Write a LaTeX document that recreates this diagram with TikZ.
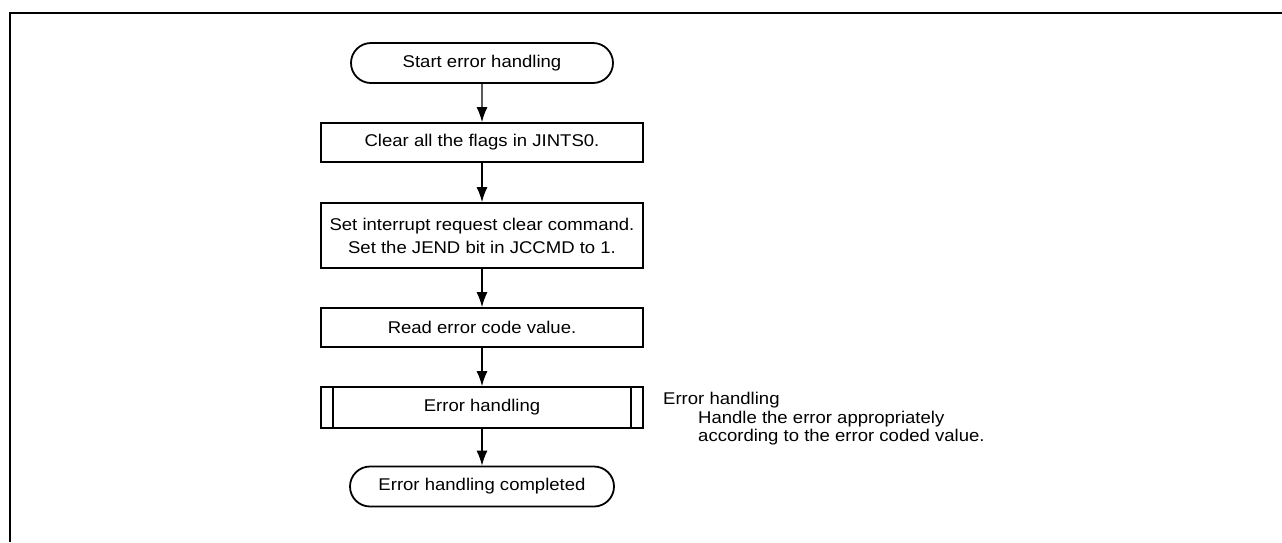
\documentclass[tikz,border=0pt]{standalone}
\usepackage{fontspec}
\setmainfont{Liberation Sans}[FakeStretch=1.09]
\usetikzlibrary{arrows.meta,shapes.misc,positioning}
\begin{document}
\begin{tikzpicture}[x=1pt,y=-1pt,
  every node/.style={font=\fontsize{17}{19}\selectfont, inner sep=0pt},
  term/.style={rounded rectangle, draw, line width=1.8pt, minimum height=40pt},
  proc/.style={rectangle, draw, line width=1.8pt, minimum width=322pt, align=center, font=\fontsize{17}{23}\selectfont},
  flow/.style={-{Latex[length=15pt,width=11pt]}, line width=1.2pt}]
\useasboundingbox (0,0) rectangle (1282,542);
\draw[line width=2pt] (9.5,542) -- (9.5,12.5) -- (1282,12.5);
\node[term, minimum width=262pt] (start) at (482,63) {Start error handling};
\node[proc, minimum height=39pt] (b1) at (482,142.5) {Clear all the flags in JINTS0.};
\node[proc, minimum height=65pt] (b2) at (482,235.5) {Set interrupt request clear command.\\Set the JEND bit in JCCMD to 1.};
\node[proc, minimum height=39pt] (b3) at (482,327.5) {Read error code value.};
\node[proc, minimum height=41pt] (b4) at (482,407.5) {Error handling};
\draw[line width=1.8pt] ([xshift=13pt]b4.north west) -- ([xshift=13pt]b4.south west)
  ([xshift=-13pt]b4.north east) -- ([xshift=-13pt]b4.south east);
\node[term, minimum width=264pt] (end) at (482,486.5) {Error handling completed};
\draw[flow] (start) -- (b1);
\draw[flow] (b1) -- (b2);
\draw[flow] (b2) -- (b3);
\draw[flow] (b3) -- (b4);
\draw[flow] (b4) -- (end);
\node[anchor=base west] (n1) at (663,404) {Error handling};
\node[anchor=base west] (n2) at (698,423) {Handle the error appropriately};
\node[anchor=base west] (n3) at (698,441.5) {according to the error coded value.};
\end{tikzpicture}
\end{document}
